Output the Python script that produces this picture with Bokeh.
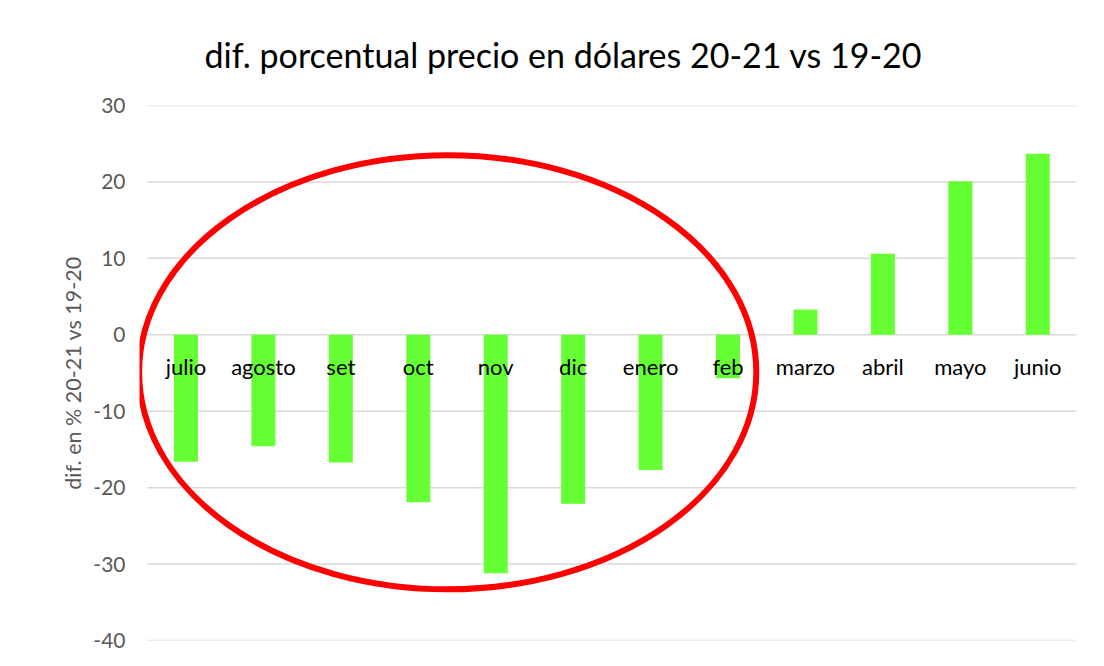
from bokeh.plotting import figure
from bokeh.models import ColumnDataSource, Range1d, FixedTicker, BoxAnnotation
from bokeh.core.properties import value
from bokeh.embed import file_html
from bokeh.resources import INLINE

months = ["julio", "agosto", "set", "oct", "nov", "dic", "enero", "feb",
          "marzo", "abril", "mayo", "junio"]
values = [-16.6, -14.6, -16.7, -21.9, -31.2, -22.1, -17.7, -5.7,
          3.3, 10.6, 20.1, 23.7]
y_ticks = [-40, -30, -20, -10, 0, 10, 20, 30]
y_tick_labels = ["-40", "-30", "-20", "-10", "0", "10", "20", "30"]

title_text = "dif. porcentual precio en dólares 20-21 vs 19-20"
y_label = "dif. en % 20-21 vs 19-20"

FONT = "Lato"
W, H = 1088, 664

pos = [i + 0.5 for i in range(len(months))]
src = ColumnDataSource(dict(x=pos, month=months, value=values,
                            zero=[0] * len(months)))

p = figure(x_range=Range1d(-0.1, len(months)), y_range=(-40, 30),
           width=W, height=H, output_backend="svg",
           toolbar_location=None, title=title_text,
           min_border_left=139, min_border_right=12,
           min_border_top=104, min_border_bottom=24)

# chart-area frame: only its left and top edges fall inside the picture
p.add_layout(BoxAnnotation(left=18, right=20, top=5, bottom=H,
                           left_units="canvas", right_units="canvas",
                           top_units="canvas", bottom_units="canvas",
                           fill_color="#000000", fill_alpha=1,
                           line_color=None, level="overlay"))
p.add_layout(BoxAnnotation(left=18, right=W, top=5, bottom=7,
                           left_units="canvas", right_units="canvas",
                           top_units="canvas", bottom_units="canvas",
                           fill_color="#000000", fill_alpha=1,
                           line_color=None, level="overlay"))

# horizontal gridlines (drawn from the category span only)
p.segment(x0=0, x1=len(months), y0=y_ticks, y1=y_ticks,
          line_color="#d9d9d9", line_width=1.5)

p.vbar(x="x", top="value", bottom=0, width=0.31, source=src,
       fill_color="#66ff33", line_color=None)

# category labels just below the zero line
p.text(x="x", y="zero", text="month", source=src, y_offset=32,
       text_align="center", text_baseline="middle",
       text_font=value(FONT), text_font_size="22px", text_color="#000000")

# highlight ellipse around julio..feb
p.ellipse(x=3.88, y=-4.9, width=7.97, height=56.8, fill_color=None,
          line_color="#ff0000", line_width=6)

p.title.align = "left"
p.title.offset = 65
p.title.text_font = FONT
p.title.text_font_size = "34px"
p.title.text_font_style = "normal"
p.title.text_color = "#000000"
p.title.standoff = 62

p.yaxis.ticker = FixedTicker(ticks=y_ticks)
p.yaxis.major_label_overrides = dict(zip(y_ticks, y_tick_labels))
p.yaxis.axis_label = y_label
p.yaxis.axis_label_text_font = FONT
p.yaxis.axis_label_text_font_size = "21.5px"
p.yaxis.axis_label_text_font_style = "normal"
p.yaxis.axis_label_text_color = "#595959"
p.yaxis.axis_label_standoff = 4
p.yaxis.major_label_text_font = FONT
p.yaxis.major_label_text_font_size = "21px"
p.yaxis.major_label_text_color = "#595959"
p.yaxis.major_label_standoff = 8
p.yaxis.axis_line_color = None
p.yaxis.major_tick_line_color = None
p.yaxis.minor_tick_line_color = None

p.xaxis.visible = False
p.xgrid.grid_line_color = None
p.ygrid.grid_line_color = None
p.outline_line_color = None
p.background_fill_color = "white"
p.border_fill_color = "white"

open("out.html", "w").write(file_html(p, INLINE))
